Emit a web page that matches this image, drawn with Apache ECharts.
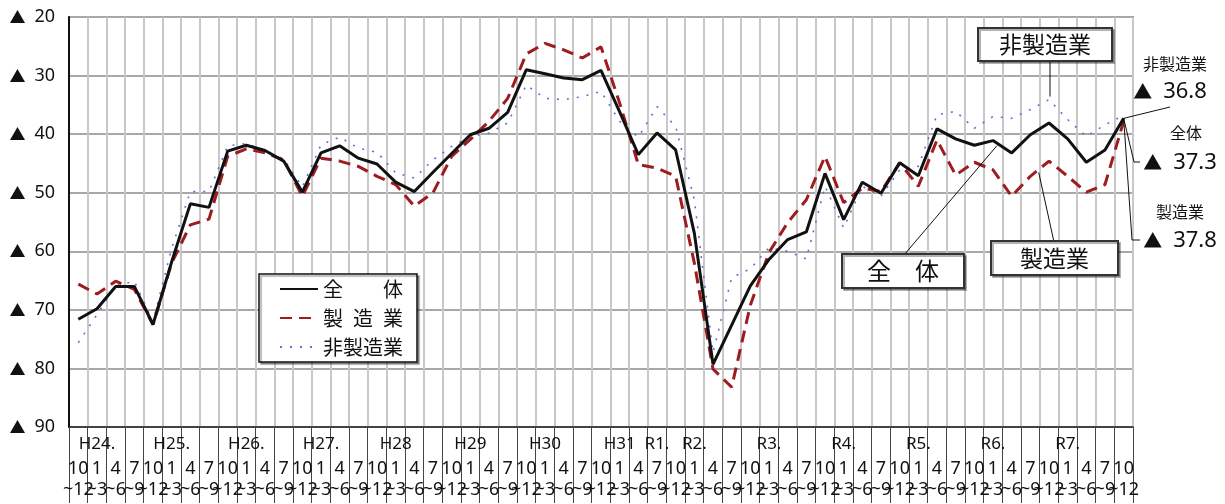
<!DOCTYPE html>
<html>
<head>
<meta charset="utf-8">
<script src="https://cdn.jsdelivr.net/npm/echarts@6/dist/echarts.min.js"></script>
<style>
html, body { margin: 0; padding: 0; background: #fff; }
#chart { width: 1225px; height: 504px; }
</style>
</head>
<body>
<div id="chart"></div>
<script>
// 四半期（H23 10~12 〜 R7 10~12）
const quarterFrom = ['10',
  '1','4','7','10', '1','4','7','10', '1','4','7','10', '1','4','7','10',
  '1','4','7','10', '1','4','7','10', '1','4','7','10', '1','4','7','10',
  '1','4','7','10', '1','4','7','10', '1','4','7','10', '1','4','7','10',
  '1','4','7','10', '1','4','7','10'];
const quarterTo = ['~12',
  '~3','~6','~9','~12', '~3','~6','~9','~12', '~3','~6','~9','~12', '~3','~6','~9','~12',
  '~3','~6','~9','~12', '~3','~6','~9','~12', '~3','~6','~9','~12', '~3','~6','~9','~12',
  '~3','~6','~9','~12', '~3','~6','~9','~12', '~3','~6','~9','~12', '~3','~6','~9','~12',
  '~3','~6','~9','~12', '~3','~6','~9','~12'];
// 年の見出し [カテゴリ位置, 表示]
const yearMarks = [[1,'H24.'],[5,'H25.'],[9,'H26.'],[13,'H27.'],[17,'H28'],[21,'H29'],[25,'H30'],
  [29,'H31'],[31,'R1.'],[33,'R2.'],[37,'R3.'],[41,'R4.'],[45,'R5.'],[49,'R6.'],[53,'R7.']];

const seriesNames = ['全\u3000\u3000体', '製\u2002造\u2002業', '非製造業'];

// BSI（▲はマイナス）
const total = [-71.6,-69.8,-66.0,-66.0,-72.5,-61.8,-51.9,-52.5,-42.9,-41.9,-42.8,-44.6,-49.9,-43.2,-42.0,-44.1,
  -45.1,-48.2,-49.8,-46.5,-43.3,-40.1,-39.0,-36.3,-29.0,-29.7,-30.4,-30.7,-29.1,-36.2,-43.5,-39.8,
  -42.7,-56.9,-79.3,-72.6,-65.9,-61.4,-58.0,-56.7,-46.7,-54.6,-48.2,-50.1,-44.9,-47.1,-39.1,-40.8,
  -41.9,-41.1,-43.2,-40.1,-38.1,-40.8,-44.8,-42.7,-37.3];
const mfg = [-65.6,-67.3,-65.1,-66.5,-72.5,-62.0,-55.5,-54.5,-43.8,-42.5,-43.2,-44.4,-50.6,-44.1,-44.6,-45.5,
  -47.2,-48.6,-52.3,-50.0,-43.8,-40.9,-37.8,-33.9,-26.3,-24.5,-25.6,-27.0,-25.1,-34.7,-45.2,-45.8,
  -47.2,-62.0,-80.1,-83.2,-69.2,-60.2,-55.1,-51.2,-43.8,-51.7,-49.2,-49.8,-44.9,-48.9,-41.0,-47.0,
  -44.8,-46.1,-50.6,-47.2,-44.6,-47.2,-49.9,-48.6,-37.8];
const nonMfg = [-75.6,-70.8,-65.9,-65.1,-72.0,-59.5,-49.8,-49.8,-42.0,-41.6,-42.9,-44.2,-49.0,-41.8,-40.5,-42.4,
  -43.1,-46.6,-47.5,-44.4,-42.1,-40.4,-39.8,-38.1,-31.6,-33.9,-34.1,-33.6,-32.7,-37.8,-40.5,-35.3,
  -38.7,-51.2,-77.3,-64.5,-63.0,-59.4,-60.0,-61.3,-48.9,-56.0,-48.9,-50.6,-46.1,-45.5,-36.7,-36.1,
  -39.0,-37.0,-37.3,-35.8,-34.1,-37.5,-40.4,-38.4,-36.8];

const categories = quarterFrom.map((q, i) => q + quarterTo[i]);
const yearAt = {};
yearMarks.forEach(m => { yearAt[m[0]] = m[1]; });

const jp = '"Noto Sans CJK JP", sans-serif';
const narrow = '"Liberation Sans Narrow", "Noto Sans", sans-serif';

const chart = echarts.init(document.getElementById('chart'));

const option = {
  animation: false,
  backgroundColor: '#fff',
  grid: {
    left: 69, top: 17, right: 92, bottom: 77,
    show: true, borderColor: '#333', borderWidth: 1.5
  },
  legend: {
    data: seriesNames,
    orient: 'vertical',
    left: 259, top: 274,
    padding: [5, 14, 5, 20],
    itemWidth: 38, itemHeight: 14, itemGap: 9,
    itemStyle: { opacity: 0, borderWidth: 0 },
    borderColor: '#111', borderWidth: 1.5,
    backgroundColor: '#fff',
    shadowColor: 'rgba(0,0,0,0.35)', shadowOffsetX: 2, shadowOffsetY: 2, shadowBlur: 1,
    textStyle: { fontFamily: jp, fontSize: 20, color: '#111', lineHeight: 20 }
  },
  xAxis: {
    type: 'category',
    data: categories,
    boundaryGap: true,
    axisLine: { lineStyle: { color: '#222', width: 1.5 } },
    axisTick: { show: true, interval: 0, length: 76, lineStyle: { color: '#444', width: 1 } },
    splitLine: { show: true, interval: 0, lineStyle: { color: '#c8c8c8', width: 2 } },
    axisLabel: {
      interval: 0, margin: 4, hideOverlap: false,
      formatter: (v, i) => '{y|' + (yearAt[i] || ' ') + '}\n{a|' + quarterFrom[i] + '}\n{b|' + quarterTo[i] + '}',
      rich: {
        y: { fontFamily: narrow, fontSize: 17, lineHeight: 26, color: '#111' },
        a: { fontFamily: narrow, fontSize: 18, lineHeight: 24, color: '#111' },
        b: { fontFamily: narrow, fontSize: 18, lineHeight: 18, color: '#111' }
      }
    }
  },
  yAxis: {
    type: 'value',
    min: -90, max: -20, interval: 10,
    axisLine: { show: true, lineStyle: { color: '#111', width: 2 } },
    axisTick: { show: false },
    splitLine: { lineStyle: { color: '#a8a8a8', width: 2 } },
    axisLabel: {
      margin: 14, color: '#111',
      formatter: v => '{t|▲}{n|\u2002' + (-v) + '}',
      rich: {
        t: { fontFamily: jp, fontSize: 16, color: '#111' },
        n: { fontFamily: narrow, fontSize: 18, color: '#111' }
      }
    }
  },
  series: [
    {
      name: seriesNames[2], type: 'line', data: nonMfg, showSymbol: false, symbol: 'none', z: 2,
      itemStyle: { color: '#6a6ad6' },
      lineStyle: { color: '#6a6ad6', width: 1.6, type: [2, 8] }
    },
    {
      name: seriesNames[1], type: 'line', data: mfg, showSymbol: false, symbol: 'none', z: 3,
      itemStyle: { color: '#9e1b1f' },
      lineStyle: { color: '#9e1b1f', width: 3, type: [12, 7] }
    },
    {
      name: seriesNames[0], type: 'line', data: total, showSymbol: false, symbol: 'none', z: 4,
      itemStyle: { color: '#111' },
      lineStyle: { color: '#111', width: 3 }
    }
  ]
};
chart.setOption(option);

// 吹き出し・右端の値
const last = total.length - 1;
const pt = (i, arr) => chart.convertToPixel({ gridIndex: 0 }, [i, arr[i]]);
const pEnd = pt(last, total);
const pNon = pt(52, nonMfg);
const pTot = pt(49, total);
const pM1 = pt(51, mfg), pM2 = pt(52, mfg);
const pMfg = [pM1[0] + (pM2[0] - pM1[0]) * 0.45, pM1[1] + (pM2[1] - pM1[1]) * 0.45 + 3];

const boxStyle = { fill: '#fff', stroke: '#333', lineWidth: 2, shadowColor: 'rgba(0,0,0,0.3)', shadowOffsetX: 2, shadowOffsetY: 2 };
const thin = { stroke: '#111', lineWidth: 1 };
function box(x, y, w, h, text, size) {
  return [
    { type: 'rect', shape: { x: x, y: y, width: w, height: h }, style: boxStyle, z: 50 },
    { type: 'text', x: x + w / 2, y: y + h / 2, z: 51,
      style: { text: text, font: size + 'px ' + jp, fill: '#111', align: 'center', verticalAlign: 'middle' } }
  ];
}
function label(x, y, text, size) {
  return { type: 'text', x: x, y: y, z: 51,
    style: { text: text, font: size + 'px ' + jp, fill: '#111', align: 'center', verticalAlign: 'middle' } };
}
function value(x, y, v) {
  return { type: 'text', x: x, y: y, z: 51,
    style: {
      text: '{t|▲}{n|\u2002' + (-v).toFixed(1) + '}', align: 'center', verticalAlign: 'middle',
      rich: {
        t: { fontFamily: jp, fontSize: 19, fill: '#111' },
        n: { fontFamily: narrow, fontSize: 22, fill: '#111' }
      }
    } };
}

chart.setOption({
  graphic: [
    { type: 'line', shape: { x1: 1050, y1: 62, x2: pNon[0] + 1, y2: pNon[1] - 3 }, style: thin, z: 49 },
    { type: 'line', shape: { x1: 904, y1: 255, x2: pTot[0] + 4, y2: pTot[1] + 5 }, style: thin, z: 49 },
    { type: 'line', shape: { x1: 1054, y1: 242, x2: pMfg[0], y2: pMfg[1] }, style: thin, z: 49 },
    ...box(978, 28, 134, 33, '非製造業', 23),
    ...box(842, 254, 122, 34, '全\u3000体', 24),
    ...box(991, 241, 127, 34, '製造業', 23),
    { type: 'polyline', shape: { points: [[pEnd[0], pEnd[1]], [1170, 107]] }, style: thin, z: 49 },
    { type: 'polyline', shape: { points: [[pEnd[0], pEnd[1]], [1134, 162], [1140, 162]] }, style: thin, z: 49 },
    { type: 'polyline', shape: { points: [[pEnd[0], pEnd[1]], [1132, 240], [1140, 240]] }, style: thin, z: 49 },
    label(1175, 64, '非製造業', 16),
    value(1170, 92, nonMfg[last]),
    label(1186, 133, '全体', 16),
    value(1180, 163, total[last]),
    label(1180, 212, '製造業', 16),
    value(1180, 241, mfg[last])
  ]
});
</script>
</body>
</html>
